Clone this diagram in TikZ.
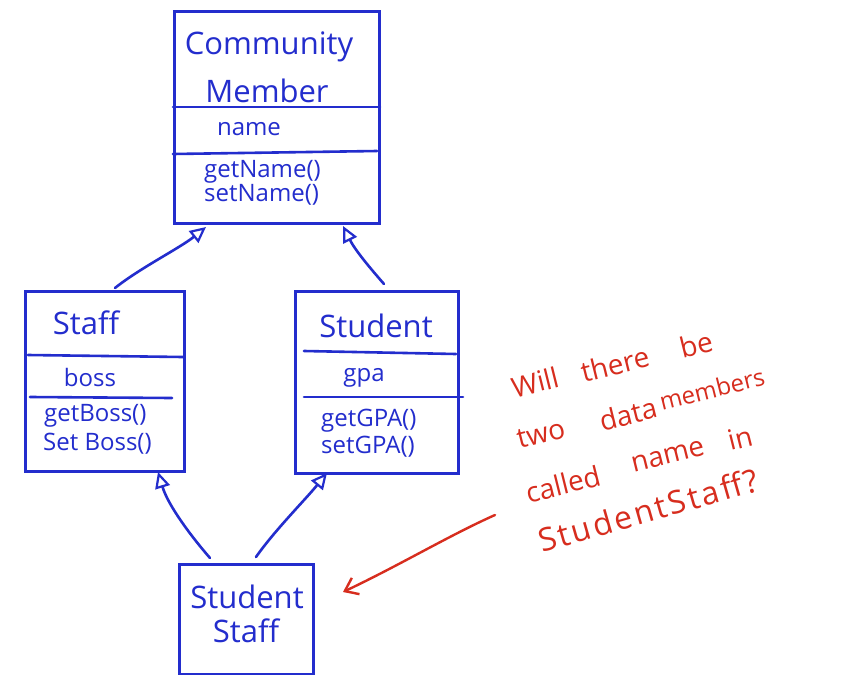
\documentclass[tikz,border=0pt]{standalone}
\usepackage{fontspec}
\setmainfont{Open Sans}
\usetikzlibrary{arrows.meta,calc}
\definecolor{ink}{RGB}{35,45,205}
\definecolor{redink}{RGB}{215,45,30}
\begin{document}
\begin{tikzpicture}[x=1pt,y=-1pt,
  box/.style={draw=ink, line width=2.6pt, rectangle, inner sep=0pt, anchor=north west},
  divider/.style={draw=ink, line width=2.6pt, line cap=round},
  big/.style={text=ink, inner sep=0pt, font=\fontsize{31}{33}\selectfont},
  mid/.style={text=ink, inner sep=0pt, font=\fontsize{24}{26}\selectfont},
  small/.style={text=ink, inner sep=0pt, anchor=west, font=\fontsize{24}{26}\selectfont},
  conn/.style={draw=ink, line width=2.6pt, line cap=round, -{Triangle[open, length=16pt, width=15pt, line width=2.2pt]}},
  note/.style={text=redink, inner sep=0pt, font=\fontsize{28}{30}\selectfont, rotate=14},
  redarrow/.style={draw=redink, line width=2.4pt, line cap=round, -{Straight Barb[length=12pt, width=18pt, line width=2.4pt]}}]
\fill[white] (0,0) rectangle (860,675);
\useasboundingbox (0,0) rectangle (860,675);

% Community Member
\node[box, minimum width=205pt, minimum height=212pt] (cm) at (173,10) {};
\draw[divider] (173,107) -- (380,107);
\draw[divider] (173,154) -- (377,151);
\node[big] (cm1) at (269,47) {Community};
\node[big] (cm2) at (267,91) {Member};
\node[mid] (cm3) at (249,129) {name};
\node[small] (cm4) at (204,172) {getName()};
\node[small] (cm5) at (204,195) {setName()};

% Staff
\node[box, minimum width=159pt, minimum height=180pt] (st) at (24,290) {};
\draw[divider] (28,355) -- (183,357);
\draw[divider] (30,397) -- (172,398);
\node[big] (st1) at (86,323) {Staff};
\node[mid] (st2) at (90,377) {boss};
\node[small] (st3) at (44,416) {getBoss()};
\node[small] (st4) at (43,444) {Set Boss()};

% Student
\node[box, minimum width=163pt, minimum height=182pt] (su) at (294,290) {};
\draw[divider] (304,351) -- (456,354);
\draw[divider] (304,397) -- (463,397);
\node[big] (su1) at (376,326) {Student};
\node[mid] (su2) at (364,378) {gpa};
\node[small] (su3) at (321,421) {getGPA()};
\node[small] (su4) at (321,447) {setGPA()};

% StudentStaff
\node[box, minimum width=134pt, minimum height=110pt] (ss) at (178,563) {};
\node[big] (ss1) at (247,597) {Student};
\node[big] (ss2) at (246,631) {Staff};

% inheritance connectors
\coordinate (a1) at (115,288);
\coordinate (a1t) at (206,227);
\coordinate (a2) at (384,284);
\coordinate (a2t) at (343,226);
\coordinate (a3) at (210,558);
\coordinate (a3t) at (158,472);
\coordinate (a4) at (256,557);
\coordinate (a4t) at (327,473);
\draw[conn] (a1) .. controls (140,268) and (180,248) .. (a1t);
\draw[conn] (a2) .. controls (370,268) and (355,250) .. (a2t);
\draw[conn] (a3) .. controls (190,535) and (168,505) .. (a3t);
\draw[conn] (a4) .. controls (275,530) and (305,500) .. (a4t);

% red note
\node[note] (w1) at (535,382) {Will};
\node[note] (w2) at (615,364) {there};
\node[note] (w3) at (696,344) {be};
\node[note] (w4) at (541,434) {two};
\node[note] (w5) at (628,414) {data};
\node[note, font=\fontsize{24}{26}\selectfont] (w6) at (712,389) {members};
\node[note] (w7) at (563,484) {called};
\node[note] (w8) at (668,456) {name};
\node[note] (w9) at (740,438) {in};
\node[note, rotate=2, font=\fontsize{32}{34}\selectfont\addfontfeatures{LetterSpace=8}] (w10) at (648,510) {StudentStaff?};
\coordinate (q0) at (495,515);
\coordinate (qa) at (343,592);
\draw[redarrow] (q0) .. controls (450,535) and (400,565) .. (qa);
\end{tikzpicture}
\end{document}
